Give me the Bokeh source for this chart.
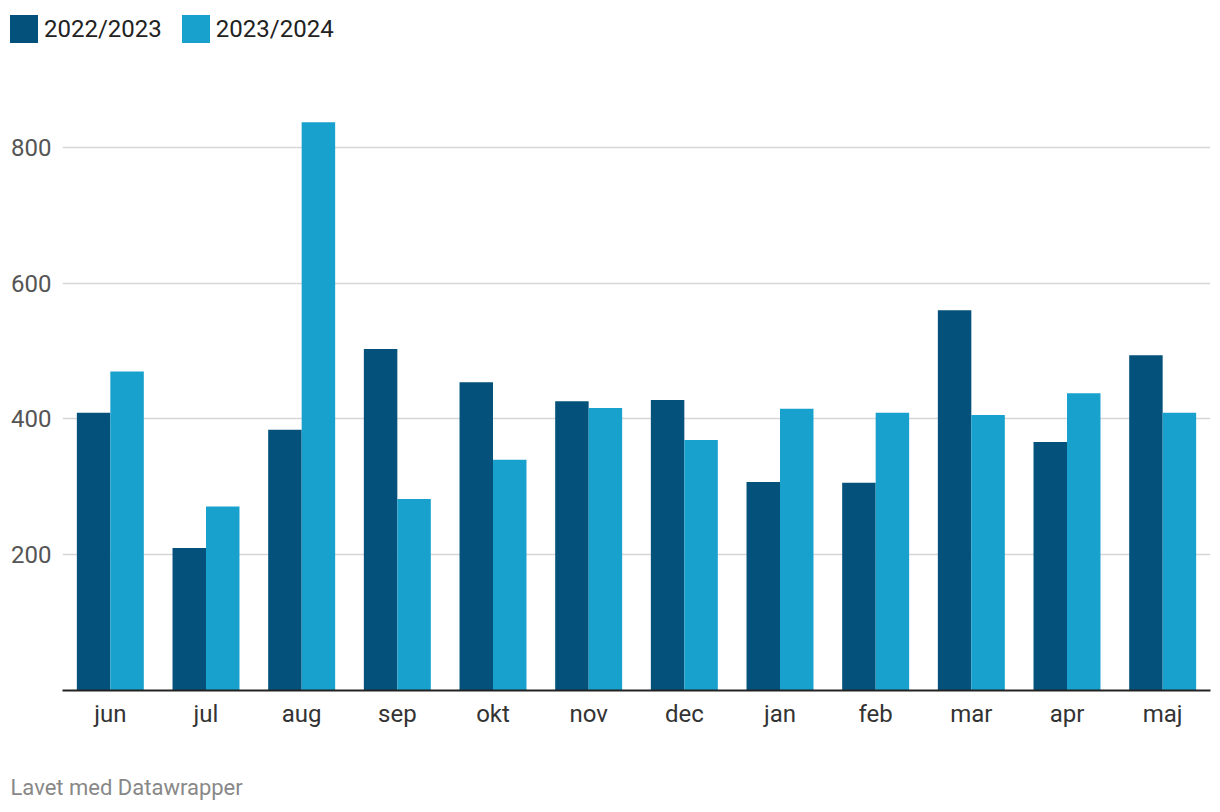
from bokeh.plotting import figure
from bokeh.models import ColumnDataSource, FixedTicker, Legend, LegendItem, Title, FactorRange, Range1d
from bokeh.layouts import column
from bokeh.transform import dodge
from bokeh.embed import file_html
from bokeh.resources import INLINE

months = ["jun", "jul", "aug", "sep", "okt", "nov", "dec", "jan", "feb", "mar", "apr", "maj"]
s2022 = [409, 210, 384, 503, 454, 426, 428, 307, 306, 560, 366, 494]
s2023 = [470, 271, 837, 282, 340, 416, 369, 415, 409, 406, 438, 409]
series_names = ["2022/2023", "2023/2024"]
y_ticks = [200, 400, 600, 800]
footer = "Lavet med Datawrapper"

DARK = "#04527b"
LIGHT = "#18a1cd"
FONT = "Roboto"

src = ColumnDataSource(dict(m=months, a=s2022, b=s2023))


def strip(h):
    f = figure(width=1212, height=h, x_range=FactorRange(*months, range_padding=0),
               y_range=Range1d(0, 1), x_axis_location=None, y_axis_location=None,
               output_backend="svg", toolbar_location=None,
               min_border_left=0, min_border_right=0, min_border_top=0, min_border_bottom=0)
    f.grid.visible = False
    f.outline_line_color = None
    return f


# ---- legend strip ----
lg = strip(56)
try:
    lg.frame_align = False
    loc_x = 6
except AttributeError:
    loc_x = -56
d1 = lg.vbar(x="m", top="a", width=0.35, source=src, fill_color=DARK, line_color=None, visible=False)
d2 = lg.vbar(x="m", top="b", width=0.35, source=src, fill_color=LIGHT, line_color=None, visible=False)
legend = Legend(items=[LegendItem(label=series_names[0], renderers=[d1]),
                       LegendItem(label=series_names[1], renderers=[d2])],
                orientation="horizontal", location=(loc_x, 10),
                glyph_width=35, glyph_height=35, label_standoff=3, spacing=16,
                padding=0, margin=0, border_line_color=None, background_fill_alpha=0,
                label_text_font=FONT, label_text_font_size="24px", label_text_color="#222222",
                label_height=35)
lg.add_layout(legend, "center")

# ---- main chart ----
p = figure(width=1212, height=684, x_range=FactorRange(*months, range_padding=0),
           y_range=Range1d(0, 934), output_backend="svg", toolbar_location=None,
           min_border_left=62, min_border_right=2, min_border_top=0, min_border_bottom=50)
p.outline_line_color = None
p.background_fill_color = None
p.border_fill_color = "white"

p.vbar(x=dodge("m", -0.175, range=p.x_range), top="a", width=0.35, source=src,
       fill_color=DARK, line_color=None)
p.vbar(x=dodge("m", 0.175, range=p.x_range), top="b", width=0.35, source=src,
       fill_color=LIGHT, line_color=None)

p.yaxis.ticker = FixedTicker(ticks=y_ticks)
p.yaxis.axis_line_color = None
p.yaxis.major_tick_line_color = None
p.yaxis.minor_tick_line_color = None
p.yaxis.major_label_text_font = FONT
p.yaxis.major_label_text_font_size = "24px"
p.yaxis.major_label_text_color = "#555555"
p.yaxis.major_label_standoff = 5

p.xaxis.axis_line_color = "#222222"
p.xaxis.axis_line_width = 2
p.xaxis.major_tick_line_color = None
p.xaxis.minor_tick_line_color = None
p.xaxis.major_label_text_font = FONT
p.xaxis.major_label_text_font_size = "24px"
p.xaxis.major_label_text_color = "#333333"
p.xaxis.major_label_standoff = 3

p.xgrid.grid_line_color = None
p.ygrid.grid_line_color = "#d6d6d6"
p.ygrid.grid_line_width = 1.5

# ---- footer strip ----
ft = strip(64)
ft.min_border_top = 60
ft.add_layout(Title(text=footer, align="left", offset=-52, text_font=FONT, text_font_size="22px",
                    text_font_style="normal", text_color="#888888", standoff=2), "above")

open("out.html", "w").write(file_html(column(lg, p, ft, spacing=0), INLINE))
